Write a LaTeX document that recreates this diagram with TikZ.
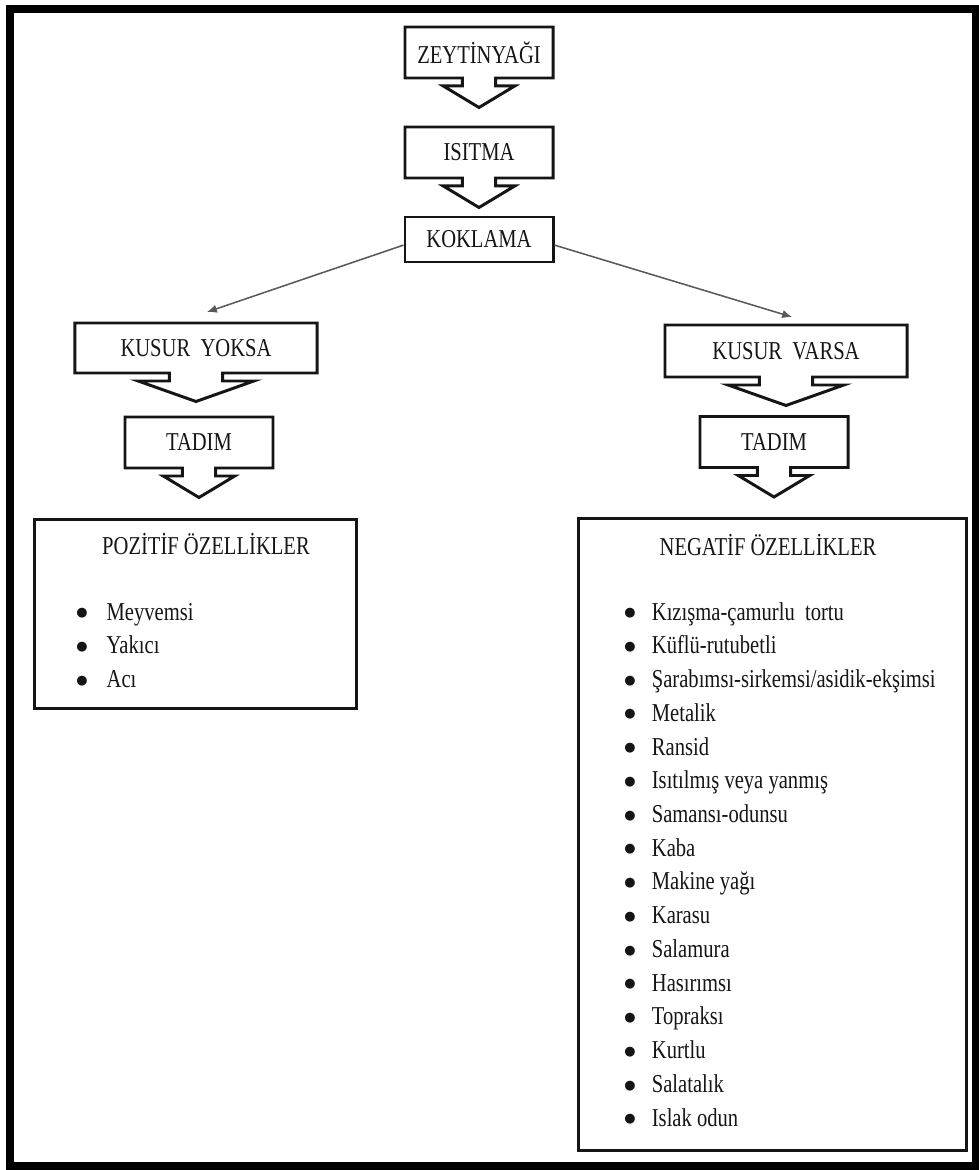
\documentclass[tikz,border=0pt]{standalone}
\usepackage{fontspec}
\setmainfont{Liberation Serif}[FakeStretch=0.8]
\newfontfamily\ozdotfont{DejaVu Sans}
\usepackage{tikz}
\usetikzlibrary{shapes.arrows,arrows.meta}
\definecolor{ozInk}{HTML}{151515}
\definecolor{ozLine}{HTML}{5A5A5A}
\newcommand{\ozfont}{\fontsize{18.3}{24}\selectfont}
\newcommand{\ozdot}{\raisebox{2.4pt}{\ozdotfont\fontsize{9.2}{11}\selectfont ●}}
\tikzset{
  ozbox/.style={draw=ozInk, line width=2.1pt, fill=white, inner sep=0pt, font=\ozfont, text=ozInk, minimum width=3.7cm, minimum height=1.275cm},
  ozboxA/.style={ozbox, shape=arrow box, arrow box arrows={south:0.7cm}, arrow box shaft width=0.83cm, arrow box head extend=0.48cm, arrow box tip angle=118},
  ozboxW/.style={ozboxA, minimum width=6.05cm, minimum height=1.25cm, arrow box arrows={south:0.675cm}, arrow box shaft width=1.33cm, arrow box head extend=0.78cm, arrow box tip angle=141},
  ozhead/.style={font=\ozfont, text=ozInk, inner sep=0pt, anchor=base},
  ozlist/.style={font=\ozfont, text=ozInk, inner sep=0pt, anchor=base west},
  arr/.style={-{Latex[length=7pt,width=6pt]}, line width=1.1pt, draw=ozLine},
}

\begin{document}
\begin{tikzpicture}[x=0.025cm, y=-0.025cm]
  \useasboundingbox (0,0) rectangle (979,1170);
  \draw[line width=5pt, draw=black] (10,9) rectangle (975.5,1166);

  % akis
  \node[ozboxA] (zeyt) at (479,52.5) {ZEYTİNYAĞI};
  \node[ozboxA] (isit) at (479,152.5) {ISITMA};
  \node[ozbox, minimum height=1.125cm] (kokl) at (479,239.5) {KOKLAMA};

  \node[ozboxW] (yoksa) at (196,348) {KUSUR\ \ YOKSA};
  \node[ozboxW, minimum height=1.3cm] (varsa) at (786,351) {KUSUR\ \ VARSA};
  \node[ozboxA] (tadL) at (199,442.5) {TADIM};
  \node[ozboxA] (tadR) at (774,442) {TADIM};

  \coordinate (yoksaTip) at (207,312);
  \coordinate (varsaTip) at (792,317);
  \draw[arr] ([yshift=-0.14cm]kokl.west) -- (yoksaTip);
  \draw[arr] ([yshift=-0.14cm]kokl.east) -- (varsaTip);

  % ozellikler
  \node[ozbox, anchor=north west, minimum width=8.05cm, minimum height=4.725cm] (poz) at (33,518) {};
  \node[ozbox, anchor=north west, minimum width=9.7cm, minimum height=15.8cm] (neg) at (577,517) {};
  \node[ozhead] (pozHead) at (206,554) {POZİTİF ÖZELLİKLER};
  \node[ozhead] (negHead) at (768,555) {NEGATİF ÖZELLİKLER};
  \node[ozlist] (pozList) at (76,620) {\begin{tabular}[t]{@{}l@{\hspace{13.6pt}}l@{}}
    \ozdot & Meyvemsi\\
    \ozdot & Yakıcı\\
    \ozdot & Acı
  \end{tabular}};
  \node[ozlist] (negList) at (624,620) {\begin{tabular}[t]{@{}l@{\hspace{11.6pt}}l@{}}
    \ozdot & Kızışma-çamurlu\ \ tortu\\
    \ozdot & Küflü-rutubetli\\
    \ozdot & Şarabımsı-sirkemsi/asidik-ekşimsi\\
    \ozdot & Metalik\\
    \ozdot & Ransid\\
    \ozdot & Isıtılmış veya yanmış\\
    \ozdot & Samansı-odunsu\\
    \ozdot & Kaba\\
    \ozdot & Makine yağı\\
    \ozdot & Karasu\\
    \ozdot & Salamura\\
    \ozdot & Hasırımsı\\
    \ozdot & Topraksı\\
    \ozdot & Kurtlu\\
    \ozdot & Salatalık\\
    \ozdot & Islak odun
  \end{tabular}};
\end{tikzpicture}
\end{document}
